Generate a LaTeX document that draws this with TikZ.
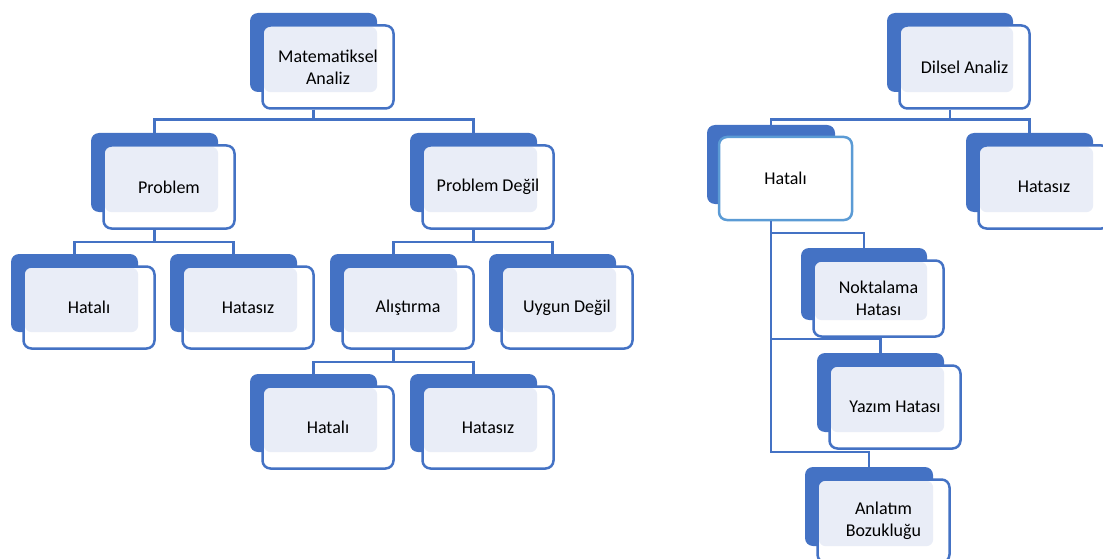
\documentclass[tikz,border=0pt]{standalone}
\usepackage{fontspec}
\setmainfont{Carlito}
\definecolor{bluec}{HTML}{4472C4}
\definecolor{lightc}{HTML}{E9EDF7}
\definecolor{selc}{HTML}{5B9BD5}
\tikzset{
  backbox/.style={fill=bluec, rounded corners=8pt, inner sep=0pt, draw=none},
  frontbox/.style={draw=bluec, line width=2.5pt, rounded corners=8pt, inner sep=2pt, align=center,
    font=\fontsize{18}{22}\selectfont, text=black},
  conn/.style={draw=bluec, line width=2.5pt}
}
\newcommand\sabox[6]{%
  \node[backbox, minimum width=#4pt, minimum height=#5pt] (#1b) at ({#2+#4/2},{#3+#5/2}) {};
  \fill[white, rounded corners=8pt] ({#2+12.5},{#3+12.5}) rectangle ++({#4+4},{#5+4});
  \fill[lightc, rounded corners=7pt] ({#2+13.8},{#3+13.8}) rectangle (#1b.south east);
  \node[frontbox, minimum width={#4pt+4pt}, minimum height={#5pt+4pt}] (#1) at ({#2+12.5+(#4+4)/2},{#3+12.5+(#5+4)/2}) {#6};
}
\begin{document}
\begin{tikzpicture}[x=1pt,y=-1pt]
\useasboundingbox (0,0) rectangle (1103,559);
% left tree
\sabox{MA}{250}{13}{127}{79}{Matematiksel\\Analiz}
\sabox{P}{91}{133}{127}{79}{Problem}
\sabox{PD}{410}{133}{127}{79}{Problem Değil}
\sabox{HA}{11}{254}{127}{78}{Hatalı}
\sabox{HB}{170}{254}{127}{78}{Hatasız}
\sabox{AL}{330}{254}{127}{78}{Alıştırma}
\sabox{UD}{489}{254}{127}{78}{Uygun Değil}
\sabox{HC}{250}{374}{127}{78}{Hatalı}
\sabox{HD}{410}{374}{127}{78}{Hatasız}
% right tree
\sabox{DA}{887}{13}{126}{79}{Dilsel Analiz}
\sabox{RS}{966}{133}{127}{79}{Hatasız}
\node[backbox, minimum width=128pt, minimum height=79pt] (RHb) at (771,164.5) {};
\node[frontbox, draw=selc, fill=white, minimum width=133pt, minimum height=83pt] (RH) at (785.5,178.5) {Hatalı};
\sabox{NK}{801}{248}{126}{72}{Noktalama\\Hatası}
\sabox{YH}{817}{353}{127}{79}{Yazım Hatası}
\sabox{AB}{805}{467}{128}{79}{Anlatım\\Bozukluğu}
% connectors
\draw[conn] (MAb.south |- MA.south) -- ++(0,10) -| (Pb.north);
\draw[conn] (MAb.south |- MA.south) -- ++(0,10) -| (PDb.north);
\draw[conn] (Pb.south |- P.south) -- ++(0,12) -| (HAb.north);
\draw[conn] (Pb.south |- P.south) -- ++(0,12) -| (HBb.north);
\draw[conn] (PDb.south |- PD.south) -- ++(0,12) -| (ALb.north);
\draw[conn] (PDb.south |- PD.south) -- ++(0,12) -| (UDb.north);
\draw[conn] (ALb.south |- AL.south) -- ++(0,12) -| (HCb.north);
\draw[conn] (ALb.south |- AL.south) -- ++(0,12) -| (HDb.north);
\draw[conn] (DAb.south |- DA.south) -- ++(0,10) -| (RHb.north);
\draw[conn] (DAb.south |- DA.south) -- ++(0,10) -| (RSb.north);
\draw[conn] (RHb.south |- RH.south) |- ([yshift=15pt]NKb.north) -- (NKb.north);
\draw[conn] (RHb.south |- RH.south) |- ([yshift=14pt]YHb.north) -- (YHb.north);
\draw[conn] (RHb.south |- RH.south) |- ([yshift=15pt]ABb.north) -- (ABb.north);
\end{tikzpicture}
\end{document}
